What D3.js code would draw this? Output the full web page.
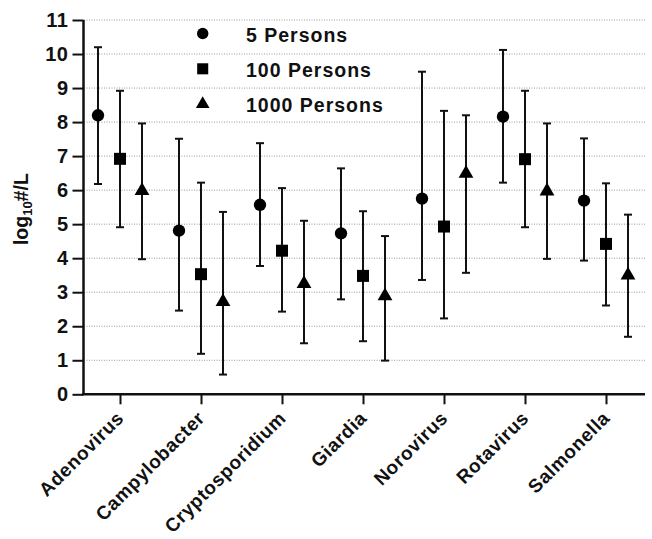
<!DOCTYPE html>
<html>
<head>
<meta charset="utf-8">
<script src="https://cdn.jsdelivr.net/npm/d3@7"></script>
<style>
  body { margin: 0; background: #fff; }
  text { font-family: "Liberation Sans", Arial, sans-serif; font-weight: bold; fill: #111; }
</style>
</head>
<body>
<div id="chart"></div>
<script>
const categories = ['Adenovirus', 'Campylobacter', 'Cryptosporidium', 'Giardia', 'Norovirus', 'Rotavirus', 'Salmonella'];
const seriesNames = ['5 Persons', '100 Persons', '1000 Persons'];

// mean, lower, upper for each category
const mean5 = [8.2, 4.81, 5.57, 4.73, 5.75, 8.16, 5.69];
const low5 = [6.18, 2.46, 3.77, 2.79, 3.36, 6.22, 3.93];
const high5 = [10.2, 7.51, 7.38, 6.64, 9.48, 10.12, 7.52];

const mean100 = [6.92, 3.53, 4.22, 3.48, 4.93, 6.91, 4.42];
const low100 = [4.91, 1.19, 2.43, 1.56, 2.23, 4.91, 2.61];
const high100 = [8.92, 6.22, 6.06, 5.38, 8.33, 8.92, 6.2];

const mean1000 = [5.98, 2.72, 3.25, 2.89, 6.49, 5.97, 3.5];
const low1000 = [3.97, 0.58, 1.5, 0.99, 3.57, 3.98, 1.69];
const high1000 = [7.96, 5.36, 5.1, 4.65, 8.2, 7.96, 5.28];

const yTicks = [0, 1, 2, 3, 4, 5, 6, 7, 8, 9, 10, 11];

const width = 652, height = 539;
const svg = d3.select('#chart').append('svg')
  .attr('width', width)
  .attr('height', height);

const x = d3.scalePoint().domain(categories).range([120, 606]);
const y = d3.scaleLinear().domain([0, 11]).range([394.3, 20]);
const offset = d3.scalePoint().domain(seriesNames).range([-22, 22]);

// dotted grid lines
svg.append('g')
  .selectAll('line')
  .data(yTicks.filter(d => d > 0))
  .enter().append('line')
  .attr('x1', 84).attr('x2', 645)
  .attr('y1', d => y(d)).attr('y2', d => y(d))
  .attr('stroke', '#999')
  .attr('stroke-width', 1)
  .attr('stroke-dasharray', '1,1.5');

// y axis
const yAxis = svg.append('g')
  .attr('transform', 'translate(83.5,0)')
  .call(d3.axisLeft(y).tickValues(yTicks).tickSize(11).tickPadding(4).tickFormat(d3.format('d')));
yAxis.selectAll('text').style('font-size', '20px').style('letter-spacing', '0.5px').attr('fill', '#111');
yAxis.selectAll('line').attr('stroke', '#111').attr('stroke-width', 2);
yAxis.select('.domain').attr('stroke', '#111').attr('stroke-width', 2.5).attr('d', `M0,${y(11)}V${y(0)}`);

// x axis
const xAxis = svg.append('g')
  .attr('transform', `translate(0,${y(0)})`)
  .call(d3.axisBottom(x).tickSize(10).tickFormat(''));
xAxis.selectAll('line').attr('stroke', '#111').attr('stroke-width', 2);
xAxis.select('.domain').attr('stroke', '#111').attr('stroke-width', 2.5).attr('d', 'M82,0H645');

// rotated category labels
svg.append('g')
  .selectAll('text')
  .data(categories)
  .enter().append('text')
  .attr('text-anchor', 'end')
  .attr('transform', d => `translate(${x(d) + 5},${y(0) + 25}) rotate(-45)`)
  .style('font-size', '19px')
  .style('letter-spacing', '0.6px')
  .text(d => d);

// y axis title
const yt = svg.append('text')
  .attr('transform', `translate(28,${(y(0) + y(11)) / 2 + 2}) rotate(-90)`)
  .attr('text-anchor', 'middle')
  .style('font-size', '19.5px');
yt.append('tspan').text('log');
yt.append('tspan').attr('dy', 4).style('font-size', '13px').text('10');
yt.append('tspan').attr('dy', -4).text('#/L');

const series = [
  { name: seriesNames[0], mean: mean5, low: low5, high: high5, symbol: d3.symbolCircle, size: 120 },
  { name: seriesNames[1], mean: mean100, low: low100, high: high100, symbol: d3.symbolSquare, size: 144 },
  { name: seriesNames[2], mean: mean1000, low: low1000, high: high1000, symbol: d3.symbolTriangle, size: 95 }
];

series.forEach(s => {
  const g = svg.append('g');
  const cx = i => x(categories[i]) + offset(s.name);
  categories.forEach((c, i) => {
    g.append('line')
      .attr('x1', cx(i)).attr('x2', cx(i))
      .attr('y1', y(s.low[i])).attr('y2', y(s.high[i]))
      .attr('stroke', '#111').attr('stroke-width', 2);
    [s.low[i], s.high[i]].forEach(v => {
      g.append('line')
        .attr('x1', cx(i) - 4).attr('x2', cx(i) + 4)
        .attr('y1', y(v)).attr('y2', y(v))
        .attr('stroke', '#111').attr('stroke-width', 2);
    });
    g.append('path')
      .attr('d', d3.symbol().type(s.symbol).size(s.size)())
      .attr('transform', `translate(${cx(i)},${y(s.mean[i])})`)
      .attr('fill', '#000');
  });
});

// legend
const legend = svg.append('g');
series.forEach((s, i) => {
  const ly = 33.5 + i * 35.3;
  legend.append('path')
    .attr('d', d3.symbol().type(s.symbol).size(s.size * 0.85)())
    .attr('transform', `translate(202.7,${ly})`)
    .attr('fill', '#000');
  legend.append('text')
    .attr('x', 246)
    .attr('y', ly + 8)
    .style('font-size', '19.5px')
    .style('letter-spacing', '1px')
    .text(s.name);
});
</script>
</body>
</html>
